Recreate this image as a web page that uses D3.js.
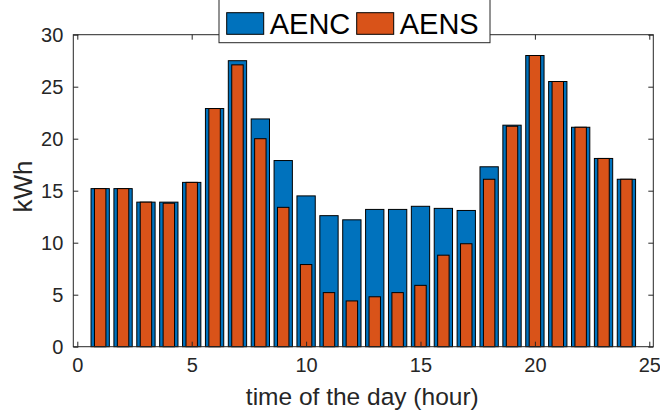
<!DOCTYPE html>
<html>
<head>
<meta charset="utf-8">
<script src="https://cdn.jsdelivr.net/npm/d3@7"></script>
<style>
    body { margin:0; background:#fff; }
    svg { display:block; font-family:"Liberation Sans", Arial, sans-serif; }
    .tick text { fill:#262626; }
</style>
</head>
<body>
<svg id="graph"></svg>
<script>
// hours of the day and the two energy series (kWh)
var hours = [1,2,3,4,5,6,7,8,9,10,11,12,13,14,15,16,17,18,19,20,21,22,23,24];
var aenc = [15.2,15.2,13.9,13.9,15.8,22.9,27.5,21.9,17.9,14.5,12.6,12.2,
            13.2,13.2,13.5,13.3,13.1,17.3,21.3,28.0,25.5,21.1,18.1,16.1];
var aens = [15.2,15.2,13.9,13.8,15.8,22.9,27.1,20.0,13.4,7.9,5.2,4.4,
            4.8,5.2,5.9,8.8,9.9,16.1,21.2,28.0,25.5,21.1,18.1,16.1];
var seriesNames = ["AENC","AENS"];
var xTicks = [0,5,10,15,20,25];
var yTicks = [0,5,10,15,20,25,30];

var initGraph = function(target)
{
    var screen = {width:660, height:414};
    var plot = {left:73.3, right:653.3, top:34.7, bottom:346.7};
    var colors = {AENC:"#0072BD", AENS:"#D95319"};
    var ink = "#262626";

    var svg = d3.select(target)
        .attr("width", screen.width)
        .attr("height", screen.height);

    var xScale = d3.scaleLinear()
        .domain([-0.175, 25.175])
        .range([plot.left, plot.right]);
    var yScale = d3.scaleLinear()
        .domain([0, 30])
        .range([plot.bottom, plot.top]);

    // bars: wide blue behind, narrow orange in front
    var drawBars = function(values, name, width)
    {
        svg.append("g")
            .classed("bars-"+name, true)
            .selectAll("rect")
            .data(values)
            .enter()
            .append("rect")
            .attr("x", function(v, i) { return xScale(hours[i]-width/2); })
            .attr("width", function() { return xScale(width)-xScale(0); })
            .attr("y", function(v) { return yScale(v); })
            .attr("height", function(v) { return yScale(0)-yScale(v); })
            .attr("fill", colors[name])
            .attr("stroke", "#000")
            .attr("stroke-width", 1);
    };
    drawBars(aenc, "AENC", 0.8);
    drawBars(aens, "AENS", 0.5);

    // box and axes
    svg.append("rect")
        .attr("x", plot.left).attr("y", plot.top)
        .attr("width", plot.right-plot.left)
        .attr("height", plot.bottom-plot.top)
        .attr("fill", "none")
        .attr("stroke", ink)
        .attr("stroke-width", 1);

    var xAxis = d3.axisBottom(xScale).tickValues(xTicks).tickSize(-5).tickPadding(11).tickFormat(d3.format("d"));
    var yAxis = d3.axisLeft(yScale).tickValues(yTicks).tickSize(-5).tickPadding(10).tickFormat(d3.format("d"));

    var styleAxis = function(g)
    {
        g.select(".domain").remove();
        g.selectAll(".tick line").attr("stroke", ink);
        g.selectAll(".tick text").attr("font-size", 20);
    };

    svg.append("g")
        .attr("transform", "translate(0,"+plot.bottom+")")
        .call(xAxis).call(styleAxis);
    svg.append("g")
        .attr("transform", "translate("+plot.left+",0)")
        .call(yAxis).call(styleAxis);
    // ticks on top and right, no labels
    svg.append("g")
        .attr("transform", "translate(0,"+plot.top+")")
        .call(d3.axisTop(xScale).tickValues(xTicks).tickSize(-5).tickFormat(""))
        .call(styleAxis);
    svg.append("g")
        .attr("transform", "translate("+plot.right+",0)")
        .call(d3.axisRight(yScale).tickValues(yTicks).tickSize(-5).tickFormat(""))
        .call(styleAxis);

    // labels
    svg.append("text")
        .text("time of the day (hour)")
        .attr("x", (plot.left+plot.right)/2 - 1)
        .attr("y", 405)
        .attr("text-anchor", "middle")
        .attr("font-size", 24.5)
        .attr("fill", ink);
    svg.append("g")
        .attr("transform", "translate(31.5,186.5)")
        .append("text")
        .text("kWh")
        .attr("transform", "rotate(-90)")
        .attr("text-anchor", "middle")
        .attr("font-size", 26)
        .attr("fill", ink);

    // legend
    var legend = svg.append("g").classed("legend", true);
    legend.append("rect")
        .attr("x", 219).attr("y", -3)
        .attr("width", 271).attr("height", 45.7)
        .attr("fill", "#fff")
        .attr("stroke", ink)
        .attr("stroke-width", 1);
    var entries = legend.selectAll("g.entry")
        .data(seriesNames)
        .enter()
        .append("g")
        .classed("entry", true)
        .attr("transform", function(name, i)
        {
            return "translate("+(226.7+i*130)+",12.7)";
        });
    entries.append("rect")
        .attr("width", 37)
        .attr("height", 21.6)
        .attr("fill", function(name) { return colors[name]; })
        .attr("stroke", "#000")
        .attr("stroke-width", 1);
    entries.append("text")
        .text(function(name) { return name; })
        .attr("x", 43)
        .attr("y", 21.5)
        .attr("font-size", 29)
        .attr("fill", "#000");
};

initGraph("#graph");
</script>
</body>
</html>
